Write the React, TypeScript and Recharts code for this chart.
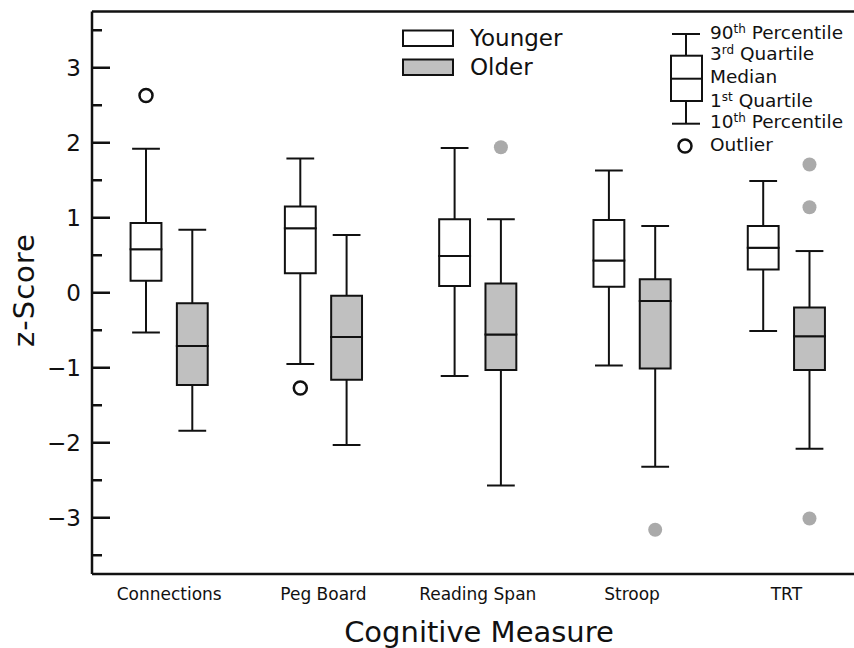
import React from 'react';
import { ComposedChart, XAxis, YAxis, ReferenceArea, ReferenceLine, Scatter } from 'recharts';

const categories = ['Connections', 'Peg Board', 'Reading Span', 'Stroop', 'TRT'];

const youngerP10 = [-0.53, -0.95, -1.11, -0.97, -0.51];
const youngerQ1 = [0.16, 0.26, 0.09, 0.08, 0.31];
const youngerMedian = [0.58, 0.86, 0.49, 0.43, 0.6];
const youngerQ3 = [0.93, 1.15, 0.98, 0.97, 0.89];
const youngerP90 = [1.92, 1.79, 1.93, 1.63, 1.49];
const youngerOutliers = [[2.63], [-1.27], [], [], []];

const olderP10 = [-1.84, -2.03, -2.57, -2.32, -2.08];
const olderQ1 = [-1.23, -1.16, -1.03, -1.01, -1.03];
const olderMedian = [-0.71, -0.59, -0.555, -0.11, -0.58];
const olderQ3 = [-0.14, -0.04, 0.125, 0.18, -0.195];
const olderP90 = [0.84, 0.77, 0.98, 0.89, 0.556];
const olderOutliers = [[], [], [1.94], [-3.16], [1.71, 1.14, -3.01]];

const yTicks = [-3.5, -3, -2.5, -2, -1.5, -1, -0.5, 0, 0.5, 1, 1.5, 2, 2.5, 3, 3.5];
const xTicks = [0, 1, 2, 3, 4];
const yDomain: [number, number] = [-3.75, 3.75];

const FONT = '"DejaVu Sans", "Liberation Sans", sans-serif';
const INK = '#111';
const GRAY = '#c0c0c0';
const DOT_GRAY = '#aaaaaa';

const OFFSET = 0.15;
const HALF_BOX = 0.1;
const HALF_CAP = 0.09;

type BoxStats = { p10: number[]; q1: number[]; med: number[]; q3: number[]; p90: number[] };

const younger: BoxStats = { p10: youngerP10, q1: youngerQ1, med: youngerMedian, q3: youngerQ3, p90: youngerP90 };
const older: BoxStats = { p10: olderP10, q1: olderQ1, med: olderMedian, q3: olderQ3, p90: olderP90 };

function boxElements(s: BoxStats, shift: number, fill: string, tag: string) {
  const els: React.ReactElement[] = [];
  categories.forEach((_, i) => {
    const cx = i + shift;
    const lineProps = { stroke: INK, strokeWidth: 2, ifOverflow: 'visible' as const };
    els.push(
      <ReferenceLine key={`${tag}-wl-${i}`} segment={[{ x: cx, y: s.p10[i] }, { x: cx, y: s.q1[i] }]} {...lineProps} />,
      <ReferenceLine key={`${tag}-wu-${i}`} segment={[{ x: cx, y: s.q3[i] }, { x: cx, y: s.p90[i] }]} {...lineProps} />,
      <ReferenceLine key={`${tag}-cl-${i}`} segment={[{ x: cx - HALF_CAP, y: s.p10[i] }, { x: cx + HALF_CAP, y: s.p10[i] }]} {...lineProps} />,
      <ReferenceLine key={`${tag}-cu-${i}`} segment={[{ x: cx - HALF_CAP, y: s.p90[i] }, { x: cx + HALF_CAP, y: s.p90[i] }]} {...lineProps} />,
      <ReferenceArea key={`${tag}-bl-${i}`} x1={cx - HALF_BOX} x2={cx + HALF_BOX} y1={s.q1[i]} y2={s.med[i]} fill={fill} fillOpacity={1} stroke={INK} strokeWidth={2} ifOverflow="visible" />,
      <ReferenceArea key={`${tag}-bu-${i}`} x1={cx - HALF_BOX} x2={cx + HALF_BOX} y1={s.med[i]} y2={s.q3[i]} fill={fill} fillOpacity={1} stroke={INK} strokeWidth={2} ifOverflow="visible" />
    );
  });
  return els;
}

const youngerOutlierPoints = youngerOutliers.flatMap((vals, i) => vals.map((v) => ({ x: i - OFFSET, y: v })));
const olderOutlierPoints = olderOutliers.flatMap((vals, i) => vals.map((v) => ({ x: i + OFFSET, y: v })));

const fmt = (v: number) => (v < 0 ? '\u2212' + Math.abs(v) : String(v));

const YTick = (props: any) => {
  const { x, y, payload } = props;
  const v = payload.value as number;
  const major = Math.abs(v - Math.round(v)) < 1e-6;
  return (
    <g>
      <line x1={x} x2={x + (major ? 18 : 10)} y1={y} y2={y} stroke={INK} strokeWidth={2.5} />
      {major && (
        <text x={x - 11} y={y} dy="0.36em" textAnchor="end" fontSize={23} fontFamily={FONT} fill={INK}>
          {fmt(v)}
        </text>
      )}
    </g>
  );
};

const XTick = (props: any) => {
  const { x, y, payload } = props;
  return (
    <text x={x} y={y + 25.5} textAnchor="middle" fontSize={17} fontFamily={FONT} fill={INK}>
      {categories[payload.value]}
    </text>
  );
};

const OpenDot = (props: any) => (
  <circle cx={props.cx} cy={props.cy} r={6.5} fill="#fff" stroke={INK} strokeWidth={2.5} />
);
const GrayDot = (props: any) => <circle cx={props.cx} cy={props.cy} r={7} fill={DOT_GRAY} stroke="none" />;

export default function App() {
  return (
    <div style={{ position: 'absolute', left: 0, top: 0, width: 854, height: 648, overflow: 'hidden', background: '#fff' }}>
      <ComposedChart width={880} height={648} margin={{ top: 11.5, right: 16.5, bottom: 0, left: 0 }}>
        <XAxis
          dataKey="x"
          type="number"
          domain={[-0.5, 4.5]}
          ticks={xTicks}
          interval={0}
          allowDataOverflow
          height={74}
          tickLine={false}
          tickSize={0}
          tickMargin={0}
          axisLine={{ stroke: INK, strokeWidth: 2.5 }}
          tick={<XTick />}
        />
        <YAxis
          dataKey="y"
          type="number"
          domain={yDomain}
          ticks={yTicks}
          interval={0}
          allowDataOverflow
          width={92}
          tickLine={false}
          tickSize={0}
          tickMargin={0}
          axisLine={{ stroke: INK, strokeWidth: 2.5 }}
          tick={<YTick />}
        />
        <ReferenceLine y={yDomain[1]} stroke={INK} strokeWidth={2.5} ifOverflow="visible" />
        {boxElements(younger, -OFFSET, '#fff', 'y')}
        {boxElements(older, OFFSET, GRAY, 'o')}
        <Scatter data={youngerOutlierPoints} shape={<OpenDot />} isAnimationActive={false} />
        <Scatter data={olderOutlierPoints} shape={<GrayDot />} isAnimationActive={false} />
      </ComposedChart>
      <svg width={854} height={648} style={{ position: 'absolute', left: 0, top: 0, pointerEvents: 'none' }}>
        <g fontFamily={FONT} fill={INK}>
          <text x={479} y={641.5} textAnchor="middle" fontSize={29}>Cognitive Measure</text>
          <text x={33.5} y={290} textAnchor="middle" fontSize={29} letterSpacing={1} transform="rotate(-90, 33.5, 290)">z-Score</text>

          <rect x={403} y={30.5} width={50} height={15.5} fill="#fff" stroke={INK} strokeWidth={2} />
          <rect x={403} y={59.5} width={50} height={15.5} fill={GRAY} stroke={INK} strokeWidth={2} />
          <text x={470} y={46} fontSize={23}>Younger</text>
          <text x={470} y={75} fontSize={23}>Older</text>

          <line x1={672} x2={700} y1={34} y2={34} stroke={INK} strokeWidth={2} />
          <line x1={686} x2={686} y1={34} y2={55.7} stroke={INK} strokeWidth={2} />
          <rect x={671} y={55.7} width={31} height={45.3} fill="#fff" stroke={INK} strokeWidth={2} />
          <line x1={671} x2={702} y1={78.7} y2={78.7} stroke={INK} strokeWidth={2} />
          <line x1={686} x2={686} y1={101} y2={123.7} stroke={INK} strokeWidth={2} />
          <line x1={672} x2={700} y1={123.7} y2={123.7} stroke={INK} strokeWidth={2} />
          <circle cx={685} cy={146} r={6.5} fill="#fff" stroke={INK} strokeWidth={2.5} />

          <g fontSize={18.5}>
            <text x={710} y={39}>90<tspan dy={-6} fontSize={12}>th</tspan><tspan dy={6}> Percentile</tspan></text>
            <text x={710} y={60}>3<tspan dy={-6} fontSize={12}>rd</tspan><tspan dy={6}> Quartile</tspan></text>
            <text x={710} y={83.3}>Median</text>
            <text x={710} y={106.7}>1<tspan dy={-6} fontSize={12}>st</tspan><tspan dy={6}> Quartile</tspan></text>
            <text x={710} y={128.3}>10<tspan dy={-6} fontSize={12}>th</tspan><tspan dy={6}> Percentile</tspan></text>
            <text x={710} y={150.7}>Outlier</text>
          </g>
        </g>
      </svg>
    </div>
  );
}
